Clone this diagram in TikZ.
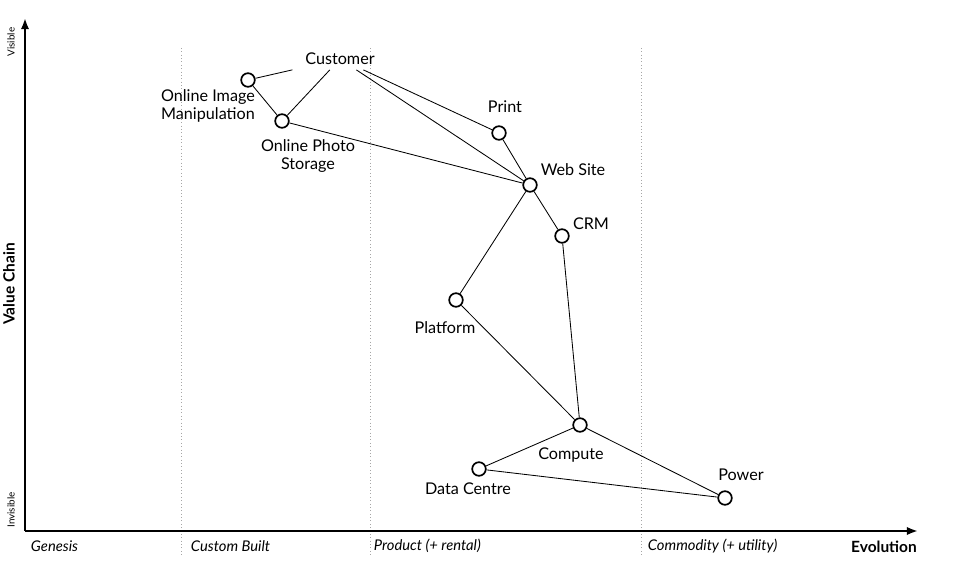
\documentclass[tikz,border=0pt]{standalone}
\usepackage{fontspec}
\setmainfont{Lato}
\usetikzlibrary{arrows.meta, positioning}

\begin{document}
\begin{tikzpicture}[x=0.025cm,y=-0.025cm,
  comp/.style={circle,draw,line width=1.2pt,fill=white,minimum size=0.34cm,inner sep=0pt},
  lbl/.style={font=\fontsize{11.5}{13}\selectfont,align=center},
  phase/.style={font=\fontsize{10.5}{12}\selectfont\itshape,anchor=west},
  edge/.style={line width=0.6pt},
  axis/.style={line width=1.5pt,-{Latex[length=8pt,width=6pt]}}]
\useasboundingbox (0,0) rectangle (956,570);

% axes
\coordinate (o) at (25,531);
\coordinate (ytop) at (25,18);
\coordinate (xend) at (918,531);
\foreach \x in {181,370,641} {
    \draw[gray!70,dotted] (\x,48) -- (\x,555);
}
\draw[axis] (o) -- (ytop);
\draw[axis] (o) -- (xend);
\node[rotate=90,font=\fontsize{7}{8}\selectfont] (vis) at (11,42) {Visible};
\node[rotate=90,font=\fontsize{7}{8}\selectfont] (invis) at (11,510) {Invisible};
\node[rotate=90,font=\fontsize{11}{12}\selectfont\bfseries] (vc) at (9,284) {Value Chain};
\node[font=\fontsize{11}{12}\selectfont\bfseries] (evo) at (884,547) {Evolution};
\node[phase] (gen) at (26,546) {Genesis};
\node[phase] (cb) at (186,546) {Custom Built};
\node[phase] (prod) at (369,546) {Product (+ rental)};
\node[phase] (commod) at (643,546) {Commodity (+ utility)};

% components
\node[lbl,inner xsep=9pt] (cust) at (340,59) {Customer};
\node[comp] (oim) at (248,80) {};
\node[comp] (ops) at (282,121) {};
\node[comp] (print) at (499,133) {};
\node[comp] (web) at (530,185) {};
\node[comp] (crm) at (562,236) {};
\node[comp] (plat) at (456,300) {};
\node[comp] (cmp) at (580,425) {};
\node[comp] (dc) at (479,469) {};
\node[comp] (pow) at (725,498) {};

\node[lbl] (oiml) at (208,106) {Online Image\\Manipulation};
\node[lbl] (opsl) at (308,156) {Online Photo\\Storage};
\node[lbl] (printl) at (505,107) {Print};
\node[lbl] (webl) at (573,170) {Web Site};
\node[lbl] (crml) at (591,224) {CRM};
\node[lbl] (platl) at (445,328) {Platform};
\node[lbl] (cmpl) at (571,455) {Compute};
\node[lbl] (dcl) at (468,489) {Data Centre};
\node[lbl] (powl) at (741,475) {Power};

% links
\foreach \a/\b in {cust/oim, cust/ops, cust/web, cust/print, oim/ops, ops/web,
    print/web, web/crm, web/plat, crm/cmp, plat/cmp, cmp/dc, cmp/pow, dc/pow} {
    \draw[edge] (\a) -- (\b);
}
\end{tikzpicture}
\end{document}
